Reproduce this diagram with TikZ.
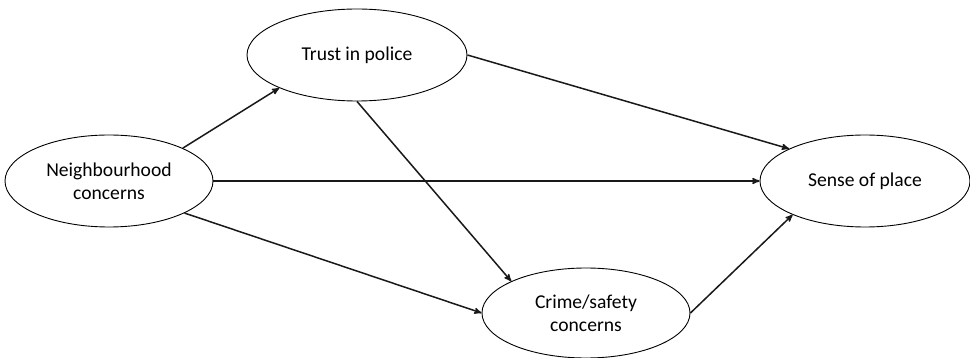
\documentclass[tikz,border=0pt]{standalone}
\usepackage{fontspec}
\setmainfont{Carlito}
\usetikzlibrary{arrows,shapes.geometric}
\tikzset{
    var node/.style={ellipse,draw=black,line width=0.9pt,inner sep=0pt,
      minimum width=208pt,minimum height=92pt,align=center,
      font=\fontsize{19.6}{23}\selectfont},
    fun line/.style={line width=1.5pt,draw=black!90, ->, >=stealth'}
}
\begin{document}
\begin{tikzpicture}[x=1pt,y=-1pt]
  \useasboundingbox (0,0) rectangle (970,358);

  % variables
  \node[var node, minimum width=220pt] (trust) at (357,55) {Trust in police};
  \node[var node] (nbh) at (109,181) {Neighbourhood\\concerns};
  \node[var node, minimum width=210pt] (sense) at (865,181) {Sense of place};
  \node[var node, minimum height=90pt] (crime) at (586,313) {Crime/safety\\concerns};

  % paths
  \draw[fun line] (nbh.24) -- (trust.203);
  \draw[fun line] (nbh.east) -- (sense.west);
  \draw[fun line] (nbh.337) -- (crime.west);
  \draw[fun line] (trust.south) -- (crime.157);
  \draw[fun line] (trust.east) -- (sense.157);
  \draw[fun line] (crime.east) -- (sense.205);

\end{tikzpicture}
\end{document}
